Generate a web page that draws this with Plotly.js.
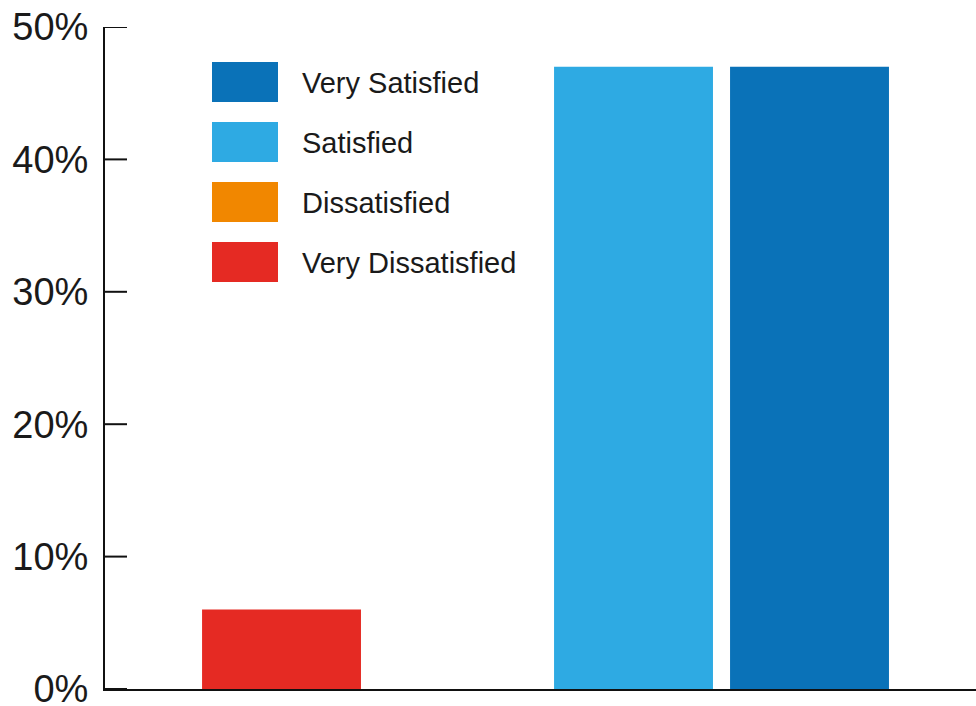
<!DOCTYPE html>
<html>
<head>
<meta charset="utf-8">
<script src="https://cdn.plot.ly/plotly-3.0.1.min.js"></script>
<style>
html,body{margin:0;padding:0;background:#fff;}
#chart{width:976px;height:706px;}
</style>
</head>
<body>
<div id="chart"></div>
<script>
// Data
var categories = ["Very Dissatisfied", "Dissatisfied", "Satisfied", "Very Satisfied"];
var values = [6, 0, 47, 47];
var barColors = ["#E52A23", "#F18700", "#2EAAE3", "#0A72B8"];
var legendLabels = ["Very Satisfied", "Satisfied", "Dissatisfied", "Very Dissatisfied"];
var legendColors = ["#0A72B8", "#2EAAE3", "#F18700", "#E52A23"];
var yTicks = [0, 10, 20, 30, 40, 50];

var W = 976, H = 706;
var mL = 105, mR = 0, mT = 27, mB = 17;
var plotW = W - mL - mR, plotH = H - mT - mB;

var trace = {
  type: "bar",
  x: categories,
  y: values,
  marker: {color: barColors, line: {width: 0}},
  width: 0.903,
  hoverinfo: "x+y",
  showlegend: false
};

var shapes = [], annotations = [];
// inward tick marks at each y tick value (data coordinates)
yTicks.forEach(function(v){
  shapes.push({
    type: "line", xref: "paper", yref: "y",
    x0: 0, x1: 22/plotW, y0: v, y1: v,
    line: {color: "#111", width: 2}, layer: "below"
  });
});
// legend drawn with shapes + annotations in paper coordinates
legendLabels.forEach(function(lbl, i){
  var top = 62 + i*60, bot = top + 40;
  shapes.push({
    type: "rect", xref: "paper", yref: "paper",
    x0: (212 - mL)/plotW, x1: (278 - mL)/plotW,
    y0: (H - mB - bot)/plotH, y1: (H - mB - top)/plotH,
    fillcolor: legendColors[i], line: {width: 0}, layer: "above"
  });
  annotations.push({
    xref: "paper", yref: "paper",
    x: (300 - mL)/plotW, y: (H - mB - (top + 21))/plotH,
    xanchor: "left", yanchor: "middle",
    text: lbl, showarrow: false,
    font: {family: "Liberation Sans, Arial, sans-serif", size: 29, color: "#1a1a1a"}
  });
});

var layout = {
  width: W, height: H,
  margin: {l: mL, r: mR, t: mT, b: mB, pad: 0},
  paper_bgcolor: "#fff", plot_bgcolor: "#fff",
  showlegend: false,
  bargap: 0.097,
  xaxis: {
    type: "category",
    range: [-1.003, 3.946],
    showticklabels: false, ticks: "",
    showgrid: false, zeroline: false,
    showline: true, linecolor: "#111", linewidth: 2,
    layer: "below traces", fixedrange: true
  },
  yaxis: {
    range: [0, 50],
    tickvals: yTicks,
    ticktext: yTicks.map(function(v){return v + "%";}),
    ticks: "",
    showgrid: false, zeroline: false,
    showline: true, linecolor: "#111", linewidth: 2,
    tickfont: {family: "Liberation Sans, Arial, sans-serif", size: 38, color: "#1a1a1a"},
    ticklabelstandoff: 7,
    ticklabeloverflow: "allow",
    automargin: false,
    layer: "below traces", fixedrange: true
  },
  shapes: shapes,
  annotations: annotations
};

Plotly.newPlot("chart", [trace], layout, {displayModeBar: false, staticPlot: true});
</script>
</body>
</html>
